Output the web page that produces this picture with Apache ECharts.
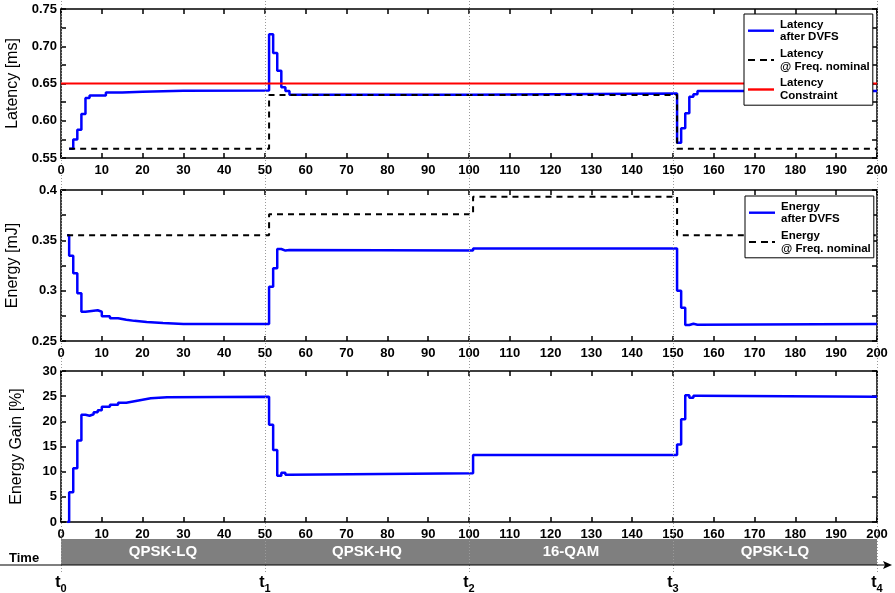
<!DOCTYPE html>
<html>
<head>
<meta charset="utf-8">
<script src="https://cdn.jsdelivr.net/npm/echarts@6/dist/echarts.min.js"></script>
<style>html,body{margin:0;padding:0;background:#fff}#c{width:895px;height:593px}</style>
</head>
<body>
<div id="c"></div>
<script>
// ---- data ----
var latencyDvfs = [[2,0.5625],[3,0.575],[4,0.588],[5,0.609],[6,0.6305],[7,0.634],[11,0.638],[15,0.639],[20,0.6403],[30,0.6407],
  [51,0.716],[52,0.691],[53,0.667],[54,0.645],[55,0.640],[56,0.6348],[101,0.6365],
  [151,0.5706],[152,0.590],[153,0.610],[154,0.6323],[155,0.6355],[156,0.640],[200,0.640]];
var latencyNominal = [[2,0.5625],[51,0.6345],[151,0.5625],[200,0.5625]];
var latencyConstraint = [[0,0.65],[200,0.65]];
var energyDvfs = [[1.5,0.355],[2,0.3347],[3,0.3172],[4,0.2974],[5,0.2791],[6,0.2805],[9,0.2791],[10,0.2745],[12,0.2725],[14,0.2712],[16,0.2700],[18,0.2688],[21,0.2678],[25,0.2670],[30,0.2668],
  [51,0.304],[52,0.3222],[53,0.3414],[54,0.3398],[55,0.3405],[56,0.3400],[101,0.3420],
  [151,0.3000],[152,0.2831],[153,0.2659],[154,0.2672],[155,0.2662],[156,0.2669],[200,0.2669]];
var energyNominal = [[1.5,0.355],[51,0.376],[101,0.3934],[151,0.355],[200,0.355]];
var energyGain = [[1.5,0],[2,5.9],[3,10.7],[4,16.2],[5,21.3],[6,21.1],[7,21.4],[8,21.8],[9,22.2],[10,22.9],[12,23.3],[14,23.7],[16,24.0],[18,24.3],[20,24.6],[22,24.8],[26,24.9],
  [51,19.3],[52,14.3],[53,9.2],[54,9.8],[55,9.4],[56,9.7],[101,13.3],
  [151,15.4],[152,20.4],[153,25.2],[154,24.7],[155,25.1],[156,24.9],[200,24.9]];
var modes = ['QPSK-LQ','QPSK-HQ','16-QAM','QPSK-LQ'];
var modeBounds = [0,50,100,150,200];
var timeLabels = ['0','1','2','3','4'];

// ---- chart ----
var FONT = '"Liberation Sans", Arial, Helvetica, sans-serif';
var chart = echarts.init(document.getElementById('c'), null, {renderer:'canvas'});
var L = 61, R = 18;
function G(top, height){ return {left:L, right:R, top:top, height:height, containLabel:false, outerBoundsMode:'none'}; }
var grids = [G(9,149), G(190,151), G(371,151), G(539,26), G(0,572)];
function boxX(g, pos){
  return {type:'value', gridIndex:g, position:pos, min:0, max:200, interval:10,
    axisLine:{show:true, onZero:false, lineStyle:{color:'#000', width:1.5}},
    axisTick:{show:true, inside:true, length:5, lineStyle:{color:'#000', width:1.5}},
    axisLabel:{show:pos==='bottom', margin:6, color:'#000', fontSize:13, fontWeight:'bold', fontFamily:FONT},
    splitLine:{show:false}};
}
function boxY(g, pos, min, max, interval, fmt, name){
  var a = {type:'value', gridIndex:g, position:pos, min:min, max:max, interval:interval,
    axisLine:{show:true, onZero:false, lineStyle:{color:'#000', width:1.5}},
    axisTick:{show:true, inside:true, length:5, lineStyle:{color:'#000', width:1.5}},
    axisLabel:{show:pos==='left', margin:4, color:'#000', fontSize:13, fontWeight:'bold', fontFamily:FONT, formatter:fmt, showMinLabel:true, showMaxLabel:true},
    splitLine:{show:false}};
  if (name && pos==='left') {
    a.name = name; a.nameLocation='middle'; a.nameGap=36;
    a.nameTextStyle = {fontSize:16, color:'#000', fontFamily:FONT};
  }
  return a;
}
function isMult(v, step){ var r = v/step; return Math.abs(r-Math.round(r))<1e-6; }
var fmtTop = function(v){ return isMult(v,0.05) ? v.toFixed(2) : ''; };
var fmtMid = function(v){ return isMult(v,0.05) ? String(+v.toFixed(3)) : ''; };
var fmtBot = function(v){ return String(Math.round(v)); };

var xAxes = [boxX(0,'bottom'), boxX(0,'top'), boxX(1,'bottom'), boxX(1,'top'), boxX(2,'bottom'), boxX(2,'top'),
  {type:'value', gridIndex:3, min:0, max:200, interval:50,
    axisLine:{show:false}, axisTick:{show:false}, splitLine:{show:false},
    axisLabel:{show:true, margin:7, color:'#000', formatter:function(v){ return '{t|t}{s|' + timeLabels[Math.round(v/50)] + '}'; },
      rich:{t:{fontSize:16, fontWeight:'bold', fontFamily:FONT, color:'#000'}, s:{fontSize:11, fontWeight:'bold', fontFamily:FONT, color:'#000', padding:[11,0,0,0]}}}},
  {type:'value', gridIndex:4, min:0, max:200, show:false}
];
var yAxes = [boxY(0,'left',0.55,0.75,0.025,fmtTop,'Latency [ms]'), boxY(0,'right',0.55,0.75,0.025,fmtTop),
  boxY(1,'left',0.25,0.4,0.025,fmtMid,'Energy [mJ]'), boxY(1,'right',0.25,0.4,0.025,fmtMid),
  boxY(2,'left',0,30,5,fmtBot,'Energy Gain [%]'), boxY(2,'right',0,30,5,fmtBot),
  {type:'value', gridIndex:3, min:0, max:1, show:false},
  {type:'value', gridIndex:4, min:0, max:1, show:false}
];

var BLUE = '#0000ff';
function stepSeries(name, data, xi, yi, color, type, width, z){
  return {name:name, type:'line', step:'end', data:data, xAxisIndex:xi, yAxisIndex:yi,
    symbol:'none', showSymbol:false, silent:true, animation:false, z:z||3,
    itemStyle:{color:color}, lineStyle:{color:color, width:width, type:type}};
}
var nLat1 = 'Latency\nafter DVFS', nLat2 = 'Latency\n@ Freq. nominal', nLat3 = 'Latency\nConstraint';
var nEn1 = 'Energy\nafter DVFS', nEn2 = 'Energy\n@ Freq. nominal';

var series = [
  {type:'line', data:[], xAxisIndex:6, yAxisIndex:6, silent:true, animation:false, z:1,
    markArea:{silent:true, itemStyle:{color:'#7f7f7f'},
      label:{show:true, position:'inside', color:'#fff', fontSize:15, fontWeight:'bold', fontFamily:FONT},
      data: modes.map(function(m,i){ return [{name:m, xAxis:modeBounds[i], yAxis:0},{xAxis:modeBounds[i+1], yAxis:1}]; })}},
  {type:'line', data:[], xAxisIndex:7, yAxisIndex:7, silent:true, animation:false, z:2,
    markLine:{silent:true, symbol:['none','none'], animation:false, label:{show:false},
      lineStyle:{type:[1,2], color:'#9a9a9a', width:1},
      data: modeBounds.map(function(v){ return {xAxis:v}; })}},
  stepSeries(nLat1, latencyDvfs, 0, 0, BLUE, 'solid', 2.5, 3),
  stepSeries(nLat2, latencyNominal, 0, 0, '#000', [6,5], 2, 4),
  stepSeries(nLat3, latencyConstraint, 0, 0, '#ff0000', 'solid', 2, 5),
  stepSeries(nEn1, energyDvfs, 2, 2, BLUE, 'solid', 2.5, 3),
  stepSeries(nEn2, energyNominal, 2, 2, '#000', [6,5], 2, 4),
  stepSeries('Energy Gain', energyGain, 4, 4, BLUE, 'solid', 2.5, 3)
];

var SOLID_ICON = 'rect';
var DASH_ICON = 'path://M0,0h7v2h-7z M12,0h7v2h-7z M23,0h3v2h-3z';
var legendText = {fontSize:11.5, fontWeight:'bold', fontFamily:FONT, color:'#000', lineHeight:12.7, padding:[0,0,0,1]};
function legendBox(items, left, top){
  return {data:items, orient:'vertical', left:left, top:top, itemWidth:26, itemHeight:2.4, itemGap:4,
    padding:[4,3,3,4], backgroundColor:'#fff', borderColor:'#000', borderWidth:1, borderRadius:0,
    textStyle:legendText, selectedMode:false, align:'left', z:20};
}
var option = {
  animation:false,
  backgroundColor:'#fff',
  grid: grids,
  xAxis: xAxes,
  yAxis: yAxes,
  legend: [
    legendBox([{name:nLat1, icon:SOLID_ICON}, {name:nLat2, icon:DASH_ICON}, {name:nLat3, icon:SOLID_ICON}], 744, 14),
    legendBox([{name:nEn1, icon:SOLID_ICON}, {name:nEn2, icon:DASH_ICON}], 745, 196)
  ],
  graphic: [
    {type:'line', silent:true, shape:{x1:0, y1:565, x2:886, y2:565}, style:{stroke:'#000', lineWidth:1.2}, z:10},
    {type:'polygon', silent:true, shape:{points:[[892,565],[883,561],[885,565],[883,569]]}, style:{fill:'#000'}, z:10},
    {type:'text', silent:true, left:9, top:552, style:{text:'Time', fontSize:13, fontWeight:'bold', fontFamily:FONT, fill:'#000'}, z:10}
  ],
  series: series
};
chart.setOption(option);
</script>
</body>
</html>
